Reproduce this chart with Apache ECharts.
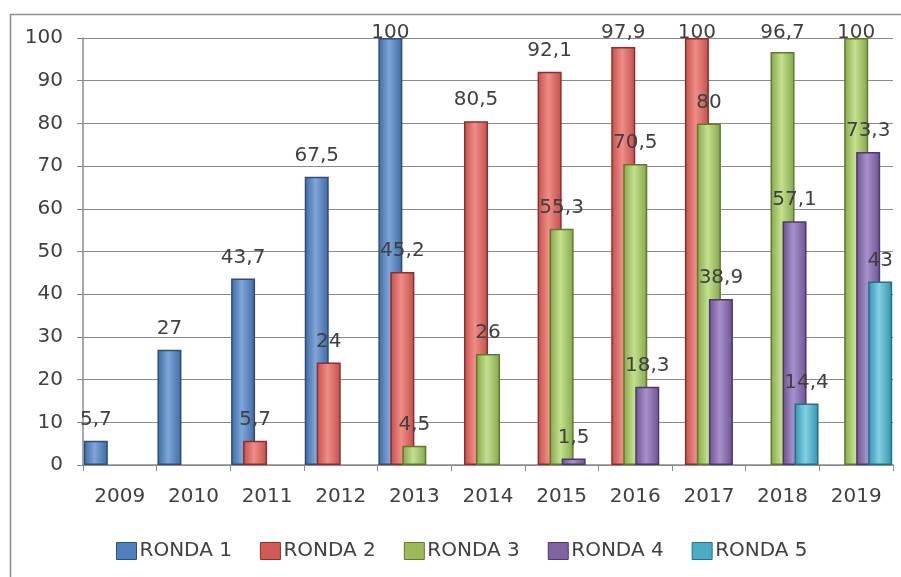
<!DOCTYPE html>
<html>
<head>
<meta charset="utf-8">
<script src="https://cdn.jsdelivr.net/npm/echarts@6/dist/echarts.min.js"></script>
<style>html,body{margin:0;padding:0;background:#fff;}#c{width:901px;height:577px;}</style>
</head>
<body>
<div id="c"></div>
<script>
var categories = ['2009','2010','2011','2012','2013','2014','2015','2016','2017','2018','2019'];
var seriesNames = ['RONDA 1','RONDA 2','RONDA 3','RONDA 4','RONDA 5'];
var ronda1 = [5.7, 27, 43.7, 67.5, 100, null, null, null, null, null, null];
var ronda2 = [null, null, 5.7, 24, 45.2, 80.5, 92.1, 97.9, 100, null, null];
var ronda3 = [null, null, null, null, 4.5, 26, 55.3, 70.5, 80, 96.7, 100];
var ronda4 = [null, null, null, null, null, null, 1.5, 18.3, 38.9, 57.1, 73.3];
var ronda5 = [null, null, null, null, null, null, null, null, null, 14.4, 43];
var yTicks = [0,10,20,30,40,50,60,70,80,90,100];

var seriesData = [ronda1, ronda2, ronda3, ronda4, ronda5];
var palette = [
  {edge:'#3f68a0', mid:'#7ea6da', border:'#2f4f7a', legend:'#4f7fbf'},
  {edge:'#c24f4b', mid:'#f08c87', border:'#8c2f2c', legend:'#d25a56'},
  {edge:'#84a748', mid:'#c4e08f', border:'#5e7a2e', legend:'#9bbb59'},
  {edge:'#6b5191', mid:'#a891cb', border:'#4d3870', legend:'#8064a2'},
  {edge:'#3093ae', mid:'#84d0e4', border:'#22708a', legend:'#4bacc6'}
];
var FONT = 'DejaVu Sans';

function grad(p){
  return new echarts.graphic.LinearGradient(0,0,1,0,[
    {offset:0, color:p.edge},
    {offset:0.45, color:p.mid},
    {offset:1, color:p.edge}
  ]);
}

var chart = echarts.init(document.getElementById('c'), null, {renderer:'canvas'});
var series = seriesNames.map(function(name, i){
  return {
    name: name,
    type: 'bar',
    data: seriesData[i],
    barWidth: 24,
    barGap: '-50%',
    itemStyle: {color: grad(palette[i]), borderColor: palette[i].border, borderWidth: 1.5},
    label: {
      show: true,
      position: 'top',
      distance: 11,
      color: '#404040',
      fontFamily: FONT,
      fontSize: 20,
      formatter: function(p){ return String(p.value).replace('.', ','); }
    },
    labelLayout: function(p){
      var minY = 23;
      if (p.labelRect && p.labelRect.y < minY) return {dy: minY - p.labelRect.y};
      return {};
    },
    emphasis: {disabled: true}
  };
});

chart.setOption({
  animation: false,
  backgroundColor: '#ffffff',
  color: palette.map(function(p){return p.legend;}),
  graphic: [{
    type: 'rect', left: 8, top: 12, z: -10,
    shape: {width: 900, height: 570},
    style: {fill: 'none', stroke: '#8c8c8c', lineWidth: 1.5}
  }],
  grid: {left: 83, right: 8, top: 38, bottom: 112, containLabel: false},
  legend: {
    data: seriesNames.map(function(n, i){
      return {name: n, itemStyle: {color: palette[i].legend, borderColor: palette[i].border, borderWidth: 1}};
    }),
    left: 111, top: 536,
    itemWidth: 20, itemHeight: 17, itemGap: 28,
    icon: 'rect',
    textStyle: {fontFamily: FONT, fontSize: 20, color: '#404040', padding: [0,0,0,-2]}
  },
  xAxis: {
    type: 'category',
    data: categories,
    axisLine: {lineStyle: {color: '#8a8a8a', width: 1.5}},
    axisTick: {show: true, length: 6, lineStyle: {color: '#8a8a8a'}},
    axisLabel: {color: '#404040', fontFamily: FONT, fontSize: 20, margin: 22}
  },
  yAxis: {
    type: 'value',
    min: yTicks[0], max: yTicks[yTicks.length-1], interval: 10,
    axisLine: {show: true, lineStyle: {color: '#8a8a8a', width: 1.5}},
    axisTick: {show: true, length: 6, lineStyle: {color: '#8a8a8a'}},
    axisLabel: {color: '#404040', fontFamily: FONT, fontSize: 20, margin: 20},
    splitLine: {lineStyle: {color: '#8a8a8a', width: 1}}
  },
  series: series
});
</script>
</body>
</html>
